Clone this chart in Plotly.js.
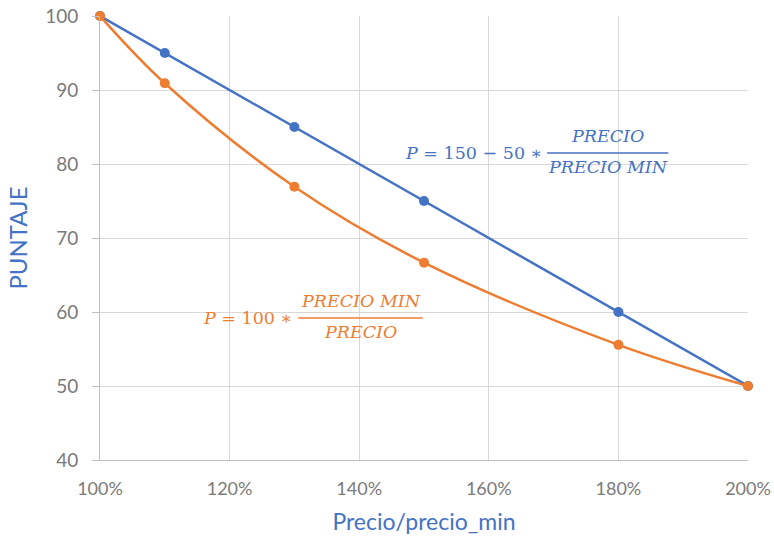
<!DOCTYPE html>
<html>
<head>
<meta charset="utf-8">
<script src="https://cdn.plot.ly/plotly-3.0.1.min.js"></script>
<style>html,body{margin:0;padding:0;background:#fff;}#chart{width:774px;height:539px;}</style>
</head>
<body>
<div id="chart"></div>
<script>
// Data
const ratio = [1.0, 1.1, 1.3, 1.5, 1.8, 2.0];
const puntajeLineal = [100, 95, 85, 75, 60, 50];
const puntajeInverso = [100, 90.91, 76.92, 66.67, 55.56, 50];
const yTicks = [40, 50, 60, 70, 80, 90, 100];
const xTicks = [1.0, 1.2, 1.4, 1.6, 1.8, 2.0];

const BLUE = '#4472C4', ORANGE = '#ED7D31', TICKGRAY = '#7A7A7A';
const mathFont = {family: 'DejaVu Serif', size: 17.5};

const traces = [
  {x: ratio, y: puntajeLineal, type: 'scatter', mode: 'lines+markers',
   line: {color: BLUE, width: 2.5}, marker: {color: BLUE, size: 10}, cliponaxis: false},
  {x: ratio, y: puntajeInverso, type: 'scatter', mode: 'lines+markers',
   line: {color: ORANGE, width: 2.5, shape: 'spline', smoothing: 1}, marker: {color: ORANGE, size: 10}, cliponaxis: false}
];

function frac(color, xLeftText, xLineStart, xLineEnd, yMid, lead, num, den) {
  const f = Object.assign({}, mathFont, {color: color});
  const xc = (xLineStart + xLineEnd) / 2;
  return {
    ann: [
      {x: xLeftText, y: yMid, xref: 'x', yref: 'y', text: lead, showarrow: false, xanchor: 'right', yanchor: 'middle', font: f},
      {x: xc, y: yMid + 2.3, xref: 'x', yref: 'y', text: num, showarrow: false, xanchor: 'center', yanchor: 'middle', font: f},
      {x: xc, y: yMid - 1.9, xref: 'x', yref: 'y', text: den, showarrow: false, xanchor: 'center', yanchor: 'middle', font: f}
    ],
    shape: {type: 'line', xref: 'x', yref: 'y', x0: xLineStart, x1: xLineEnd, y0: yMid, y1: yMid, line: {color: color, width: 1.5}}
  };
}

const fb = frac(BLUE, 1.686, 1.690, 1.877, 81.5, '<i>P</i> = 150 − 50 ∗', '<i>PRECIO</i>', '<i>PRECIO MIN</i>');
const fo = frac(ORANGE, 1.300, 1.306, 1.498, 59.2, '<i>P</i> = 100 ∗', '<i>PRECIO MIN</i>', '<i>PRECIO</i>');

const layout = {
  width: 774, height: 539,
  margin: {l: 100, r: 26, t: 16, b: 79},
  paper_bgcolor: '#fff', plot_bgcolor: '#fff',
  showlegend: false,
  font: {family: 'Lato, Noto Sans, sans-serif', color: TICKGRAY, size: 18},
  xaxis: {
    range: [1.0, 2.0], tickvals: xTicks, tickformat: '.0%',
    showgrid: true, gridcolor: '#D9D9D9', gridwidth: 1,
    showline: true, linecolor: '#BFBFBF', linewidth: 1,
    ticks: '', zeroline: false,
    ticklabelstandoff: 12,
    tickfont: {size: 18, color: TICKGRAY},
    title: {text: 'Precio/precio_min', font: {size: 23, color: BLUE}, standoff: 16}
  },
  yaxis: {
    range: [40, 100], tickvals: yTicks,
    showgrid: true, gridcolor: '#D9D9D9', gridwidth: 1,
    showline: true, linecolor: '#BFBFBF', linewidth: 1,
    ticks: 'outside', ticklen: 7, tickcolor: '#BFBFBF',
    ticklabelstandoff: 10,
    zeroline: false,
    tickfont: {size: 19, color: TICKGRAY},
    title: {text: 'PUNTAJE', font: {size: 24, color: BLUE}, standoff: 10}
  },
  shapes: [fb.shape, fo.shape],
  annotations: fb.ann.concat(fo.ann)
};

Plotly.newPlot('chart', traces, layout, {displayModeBar: false, staticPlot: true});
</script>
</body>
</html>
